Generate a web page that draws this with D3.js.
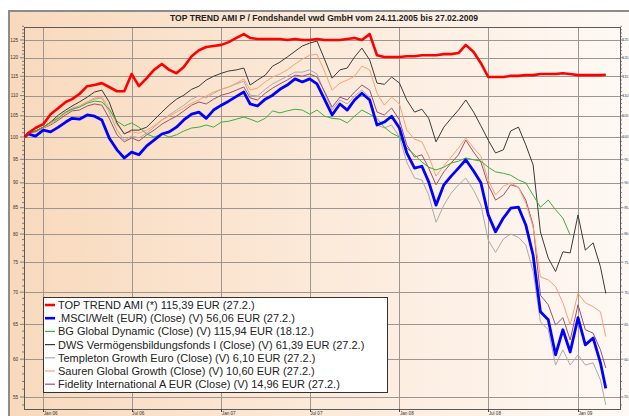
<!DOCTYPE html>
<html>
<head>
<meta charset="utf-8">
<script src="https://cdn.jsdelivr.net/npm/d3@7"></script>
<style>
body { margin: 0; background: #fff; }
svg { display: block; font-family: "Liberation Sans", Arial, sans-serif; }
</style>
</head>
<body>
<div id="chart-area"></div>
<script>
/* TOP TREND AMI P - Fondshandel vwd, indexed to 100 */

var dates = ["2005-11-24","2005-12-01","2005-12-16",
    "2006-01-01","2006-01-16","2006-02-01","2006-02-16","2006-03-01","2006-03-16",
    "2006-04-01","2006-04-16","2006-05-01","2006-05-16","2006-06-01","2006-06-16",
    "2006-07-01","2006-07-16","2006-08-01","2006-08-16","2006-09-01","2006-09-16",
    "2006-10-01","2006-10-16","2006-11-01","2006-11-16","2006-12-01","2006-12-16",
    "2007-01-01","2007-01-16","2007-02-01","2007-02-16","2007-03-01","2007-03-16",
    "2007-04-01","2007-04-16","2007-05-01","2007-05-16","2007-06-01","2007-06-16",
    "2007-07-01","2007-07-16","2007-08-01","2007-08-16","2007-09-01","2007-09-16",
    "2007-10-01","2007-10-16","2007-11-01","2007-11-16","2007-12-01","2007-12-16",
    "2008-01-01","2008-01-16","2008-02-01","2008-02-16","2008-03-01","2008-03-16",
    "2008-04-01","2008-04-16","2008-05-01","2008-05-16","2008-06-01","2008-06-16",
    "2008-07-01","2008-07-16","2008-08-01","2008-08-16","2008-09-01","2008-09-16",
    "2008-10-01","2008-10-16","2008-11-01","2008-11-16","2008-12-01","2008-12-16",
    "2009-01-01","2009-01-16","2009-02-01","2009-02-16","2009-02-27"];

var topTrend = [100, 100.9, 102.1,
    103.0, 105.4, 106.9, 108.4, 109.1, 110.4, 112.4, 112.7, 113.2, 112.2, 111.1, 111.1,
    115.6, 112.4, 114.5, 116.7, 118.3, 116.7, 115.8, 117.5, 120.4, 122.1, 123.0, 123.3,
    123.6, 124.4, 125.6, 126.7, 125.6, 125.3, 125.3, 125.3, 125.3, 125.0, 125.3, 125.0,
    125.0, 125.3, 125.0, 125.0, 125.0, 125.3, 125.6, 125.0, 126.7, 120.7, 120.2, 120.2,
    120.2, 120.4, 120.4, 120.7, 120.7, 120.7, 121.0, 121.0, 121.3, 123.6, 121.6, 118.5,
    114.8, 114.8, 114.8, 115.1, 115.1, 115.3, 115.3, 115.6, 115.6, 115.6, 115.8, 115.6,
    115.3, 115.3, 115.3, 115.3, 115.4];

var msciWelt = [100, 100.7, 100.2,
    101.6, 101.2, 102.3, 103.5, 104.4, 104.2, 105.2, 104.9, 104.0, 99.8, 97.1, 95.3,
    96.6, 96.0, 98.0, 99.3, 100.7, 101.2, 102.3, 104.0, 105.4, 105.9, 104.4, 106.4,
    107.6, 108.6, 109.8, 110.9, 107.9, 107.4, 109.1, 110.1, 111.6, 112.7, 114.3, 113.5,
    114.3, 113.0, 108.9, 105.2, 107.9, 106.4, 108.9, 110.6, 108.9, 102.8, 103.5, 104.9,
    102.1, 96.4, 93.1, 93.5, 90.2, 85.5, 89.6, 91.4, 93.1, 94.9, 92.5, 90.0,
    83.6, 80.4, 83.0, 84.9, 85.1, 81.7, 76.2, 66.9, 65.7, 60.6, 64.2, 61.0,
    66.0, 62.0, 63.0, 59.5, 56.1];

var bgGlobal = [100, 100.7, 101.4,
    102.3, 103.5, 104.4, 105.9, 106.6, 107.1, 108.1, 108.6, 108.4, 106.6, 103.7, 102.6,
    103.3, 102.3, 100.7, 100.0, 100.7, 100.0, 100.5, 101.4, 102.1, 102.3, 102.8, 102.3,
    103.5, 103.7, 104.2, 104.7, 104.2, 103.5, 104.4, 106.2, 105.7, 106.2, 106.6, 106.4,
    105.4, 106.4, 104.9, 104.4, 104.2, 103.3, 104.9, 106.4, 105.4, 104.4, 102.3, 100.9,
    100.0, 97.5, 96.0, 94.4, 93.3, 92.7, 93.3, 94.2, 94.6, 95.3, 94.9, 94.6,
    93.3, 92.3, 92.0, 91.6, 90.6, 90.0, 87.5, 85.1, 86.5, 84.6, 83.0, 79.8,
    null, null, null, null, null];

var dwsVermoegen = [100, 100.9, 101.4,
    102.3, 103.5, 105.2, 106.4, 107.4, 108.4, 109.6, 110.9, 111.4, 108.4, 103.3, 100.7,
    101.6, 101.6, 102.3, 104.0, 105.9, 107.6, 109.1, 110.1, 111.6, 112.4, 114.0, 115.0,
    115.8, 116.4, 116.7, 117.2, 112.7, 114.0, 115.3, 117.7, 118.8, 120.2, 121.8, 123.3,
    124.1, 124.7, 119.4, 114.5, 116.7, 117.2, 120.2, 122.7, 119.4, 113.2, 112.9, 114.8,
    113.2, 108.9, 105.9, 106.6, 104.4, 98.9, 102.3, 104.4, 106.4, 108.9, 105.9, 102.6,
    99.3, 96.4, 97.1, 101.4, 102.3, 98.2, 93.8, 80.4, 75.7, 73.4, 76.8, 76.6,
    83.6, 77.1, 78.4, 74.2, 69.8];

var templeton = [100, 100.9, 101.4,
    102.3, 103.3, 104.7, 105.9, 106.9, 107.4, 108.4, 109.1, 109.4, 105.9, 101.6, 99.3,
    100.2, 99.8, 100.9, 102.3, 104.0, 105.2, 106.4, 107.6, 109.1, 109.9, 109.4, 110.6,
    111.6, 112.2, 113.0, 113.7, 110.1, 109.9, 111.6, 113.0, 114.0, 115.0, 116.1, 116.1,
    116.7, 115.6, 110.6, 106.4, 108.9, 107.9, 109.9, 111.4, 109.6, 102.8, 102.1, 102.8,
    100.0, 94.4, 91.0, 90.6, 87.5, 82.2, 85.5, 87.9, 89.6, 91.0, 88.5, 85.5,
    78.9, 76.7, 79.1, 80.0, 79.4, 78.0, 73.4, 65.4, 64.2, 59.2, 61.3, 59.2,
    60.6, 59.2, 59.5, 57.2, 54.0];

var sauren = [100, 100.7, 101.4,
    102.1, 103.0, 104.4, 105.6, 106.4, 107.4, 108.4, 109.4, 109.6, 106.9, 102.8, 100.9,
    101.2, 100.9, 101.6, 102.6, 104.0, 104.9, 105.9, 106.9, 108.1, 108.9, 109.9, 110.9,
    111.6, 112.2, 113.2, 114.3, 111.4, 111.9, 113.5, 114.8, 115.6, 116.7, 118.3, 119.6,
    120.7, 121.0, 116.1, 111.4, 113.2, 114.0, 115.0, 117.7, 116.7, 110.6, 107.6, 109.6,
    107.9, 101.6, 99.5, 98.9, 95.7, 91.4, 93.6, 95.5, 97.5, 99.8, 97.5, 95.7,
    90.6, 87.5, 89.3, 90.0, 89.1, 85.9, 81.3, 72.5, 72.0, 70.9, 68.3, 64.9,
    69.8, 68.3, 67.7, 66.9, 63.2];

var fidelity = [100, 100.9, 101.2,
    102.1, 102.8, 104.0, 105.2, 106.2, 106.4, 107.4, 107.9, 107.6, 104.4, 100.5, 98.9,
    99.8, 99.1, 100.5, 101.6, 103.0, 104.0, 104.9, 106.2, 107.6, 108.4, 107.9, 109.1,
    110.1, 110.6, 111.4, 112.2, 109.4, 108.9, 110.6, 111.9, 113.0, 114.0, 115.3, 115.0,
    115.6, 114.8, 110.9, 107.1, 109.6, 108.9, 110.9, 112.7, 111.4, 105.9, 105.2, 106.9,
    104.0, 98.2, 95.5, 96.0, 93.1, 89.6, 92.3, 94.2, 96.0, 99.3, 96.6, 94.4,
    89.6, 86.5, 87.5, 89.6, 89.1, 86.5, 81.7, 69.5, 68.0, 64.9, 66.0, 62.7,
    68.0, 64.2, 63.7, 61.3, 58.8];

var legendLabels = [
    "TOP TREND AMI (*) 115,39 EUR (27.2.)",
    ".MSCI/Welt (EUR) (Close) (V) 56,06 EUR (27.2.)",
    "BG Global Dynamic (Close) (V) 115,94 EUR (18.12.)",
    "DWS Vermögensbildungsfonds I (Close) (V) 61,39 EUR (27.2.)",
    "Templeton Growth Euro (Close) (V) 6,10 EUR (27.2.)",
    "Sauren Global Growth (Close) (V) 10,60 EUR (27.2.)",
    "Fidelity International A EUR (Close) (V) 14,96 EUR (27.2.)"
];

var yTicks = [55, 60, 65, 70, 75, 80, 85, 90, 95, 100, 105, 110, 115, 120, 125];
var xTickDates = ["2006-01-01", "2006-07-01", "2007-01-01", "2007-07-01",
    "2008-01-01", "2008-07-01", "2009-01-01"];
var xTickLabels = ["Jan 06", "Jul 06", "Jan 07", "Jul 07", "Jan 08", "Jul 08", "Jan 09"];

var chartTitle = "TOP TREND AMI P / Fondshandel vwd GmbH vom 24.11.2005 bis 27.02.2009";

// styles, in legend order
var lineColors = ["#ff0000", "#0000ff", "#3caf3c", "#3a3a3a", "#ababab", "#ffa070", "#a0506c"];
var lineWidths = [2.6, 2.8, 1, 1, 1, 1, 1];

var series = [topTrend, msciWelt, bgGlobal, dwsVermoegen, templeton, sauren, fidelity];
var drawOrder = [4, 6, 5, 3, 2, 1, 0];

var width = 629;
var height = 416;
var plot = { left: 24, right: 620, top: 27, bottom: 409 };

var parse = d3.utcParse("%Y-%m-%d");
var parsedDates = dates.map(parse);

var svg = d3.select("#chart-area")
    .append("svg")
    .attr("width", width)
    .attr("height", height);

var defs = svg.append("defs");
var grad = defs.append("linearGradient")
    .attr("id", "bg")
    .attr("x1", "0%").attr("y1", "0%")
    .attr("x2", "100%").attr("y2", "0%");
grad.append("stop").attr("offset", "0%").attr("stop-color", "#f8d9bc");
grad.append("stop").attr("offset", "55%").attr("stop-color", "#fcebdc");
grad.append("stop").attr("offset", "100%").attr("stop-color", "#fef9f5");

defs.append("clipPath")
    .attr("id", "plotclip")
    .append("rect")
    .attr("x", plot.left)
    .attr("y", plot.top)
    .attr("width", plot.right - plot.left)
    .attr("height", plot.bottom - plot.top);

// panel
svg.append("rect")
    .attr("x", 8)
    .attr("y", 10)
    .attr("width", width - 8)
    .attr("height", height - 10)
    .attr("fill", "url(#bg)");

svg.append("path")
    .attr("d", "M9,416 L9,11 L629,11")
    .attr("fill", "none")
    .attr("stroke", "#8c8c8c")
    .attr("stroke-width", 2);

svg.append("text")
    .attr("x", 324)
    .attr("y", 21)
    .attr("text-anchor", "middle")
    .attr("font-size", "8.6px")
    .attr("font-weight", "bold")
    .attr("fill", "#222")
    .text(chartTitle);

var x = d3.scaleUtc()
    .domain([parse("2006-01-01"), parse("2009-01-01")])
    .range([43.3, 578]);

var y = d3.scaleLog()
    .domain([55, 125])
    .range([397, 40]);

// grid
svg.append("g")
    .selectAll("line")
    .data(yTicks)
    .enter()
    .append("line")
    .attr("x1", plot.left)
    .attr("x2", plot.right)
    .attr("y1", function(d) { return Math.round(y(d)) + 0.5; })
    .attr("y2", function(d) { return Math.round(y(d)) + 0.5; })
    .attr("stroke", "#9d9690")
    .attr("stroke-width", 1);

svg.append("g")
    .selectAll("line")
    .data(xTickDates)
    .enter()
    .append("line")
    .attr("x1", function(d) { return Math.round(x(parse(d))) + 0.5; })
    .attr("x2", function(d) { return Math.round(x(parse(d))) + 0.5; })
    .attr("y1", plot.top)
    .attr("y2", plot.bottom)
    .attr("stroke", "#9d9690")
    .attr("stroke-width", 1);

// frame
svg.append("rect")
    .attr("x", plot.left + 0.5)
    .attr("y", plot.top + 0.5)
    .attr("width", plot.right - plot.left)
    .attr("height", plot.bottom - plot.top)
    .attr("fill", "none")
    .attr("stroke", "#5a5a5a")
    .attr("stroke-width", 1);

// y axis ticks (minor every unit)
var minor = d3.range(54, 130);
var axisG = svg.append("g").attr("stroke", "#555").attr("stroke-width", 0.7);
axisG.selectAll(".tl")
    .data(minor)
    .enter()
    .append("line")
    .attr("x1", function(d) { return plot.left - (d % 5 === 0 ? 4 : 2); })
    .attr("x2", plot.left)
    .attr("y1", function(d) { return y(d); })
    .attr("y2", function(d) { return y(d); });
axisG.selectAll(".tr")
    .data(minor)
    .enter()
    .append("line")
    .attr("x1", plot.right + 0.5)
    .attr("x2", function(d) { return plot.right + 0.5 + (d % 5 === 0 ? 3 : 1.5); })
    .attr("y1", function(d) { return y(d); })
    .attr("y2", function(d) { return y(d); });

svg.append("g")
    .selectAll("text")
    .data(yTicks)
    .enter()
    .append("text")
    .attr("x", 18)
    .attr("y", function(d) { return y(d); })
    .attr("dy", "0.35em")
    .attr("text-anchor", "end")
    .attr("font-size", "4.6px")
    .attr("fill", "#333")
    .text(function(d) { return d; });

svg.append("g")
    .selectAll("text")
    .data(yTicks)
    .enter()
    .append("text")
    .attr("x", 628.6)
    .attr("y", function(d) { return y(d); })
    .attr("dy", "0.35em")
    .attr("text-anchor", "end")
    .attr("font-size", "4px")
    .attr("fill", "#444")
    .text(function(d) { return d; });

// x axis ticks
svg.append("g")
    .selectAll("line")
    .data(xTickDates)
    .enter()
    .append("line")
    .attr("x1", function(d) { return Math.round(x(parse(d))) + 0.5; })
    .attr("x2", function(d) { return Math.round(x(parse(d))) + 0.5; })
    .attr("y1", plot.bottom)
    .attr("y2", plot.bottom + 3)
    .attr("stroke", "#444")
    .attr("stroke-width", 1);

svg.append("g")
    .selectAll("text")
    .data(xTickDates)
    .enter()
    .append("text")
    .attr("x", function(d) { return x(parse(d)) + 0.5; })
    .attr("y", 415)
    .attr("font-size", "4.6px")
    .attr("fill", "#333")
    .text(function(d, i) { return xTickLabels[i]; });

// lines
var line = d3.line()
    .defined(function(d) { return d !== null; })
    .x(function(d, i) { return x(parsedDates[i]); })
    .y(function(d) { return y(d); });

var linesG = svg.append("g").attr("clip-path", "url(#plotclip)");
drawOrder.forEach(function(k) {
    linesG.append("path")
        .datum(series[k])
        .attr("d", line)
        .attr("fill", "none")
        .attr("stroke", lineColors[k])
        .attr("stroke-width", lineWidths[k])
        .attr("stroke-linejoin", "round");
});

// legend
var lg = svg.append("g");
lg.append("rect")
    .attr("x", 43.5)
    .attr("y", 297.5)
    .attr("width", 344)
    .attr("height", 95)
    .attr("fill", "#fff")
    .attr("stroke", "#333")
    .attr("stroke-width", 1);

var rows = lg.selectAll(".row")
    .data(legendLabels)
    .enter()
    .append("g")
    .attr("transform", function(d, i) {
        return "translate(0," + (305 + i * 13.2) + ")";
    });

rows.append("line")
    .attr("x1", 45)
    .attr("x2", 55)
    .attr("y1", 0)
    .attr("y2", 0)
    .attr("stroke", function(d, i) { return lineColors[i]; })
    .attr("stroke-width", function(d, i) { return i < 2 ? 2.6 : 1.2; });

rows.append("text")
    .attr("x", 58)
    .attr("y", 4)
    .attr("font-size", "11px")
    .attr("fill", "#222")
    .text(function(d) { return d; });
</script>
</body>
</html>
